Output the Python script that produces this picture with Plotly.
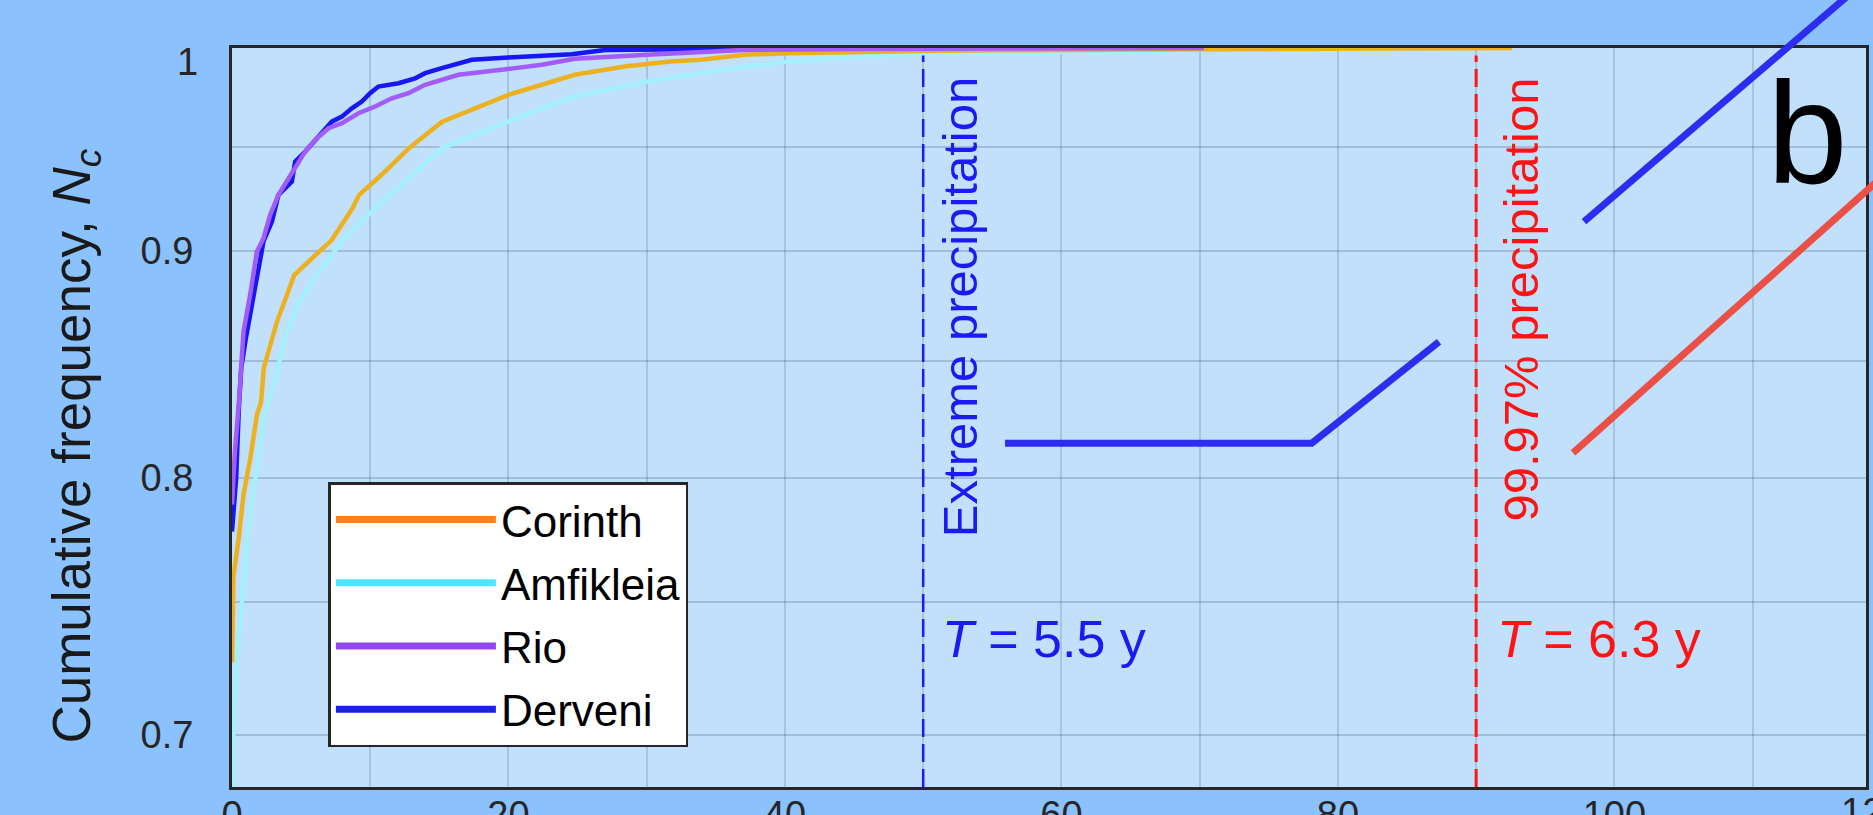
import math
import plotly.graph_objects as go

# Cumulative frequency of daily precipitation (mm) per station
corinth_x = [0, 0.1, 0.5, 0.83, 1.32, 1.8, 2.1, 2.3, 3.25, 4.5, 5.8, 7.2, 8.7, 9.2, 10.8,
             12.8, 15.2, 17.6, 20.0, 22.4, 24.8, 28.4, 31.7, 33.9, 37.1, 40.3, 43.5, 50,
             55, 62, 70, 80, 92.6]
corinth_y = [0.727, 0.760, 0.776, 0.793, 0.808, 0.8265, 0.832, 0.847, 0.8675, 0.8888,
             0.8967, 0.905, 0.920, 0.9266, 0.9362, 0.9493, 0.9625, 0.9692, 0.976, 0.9811,
             0.9862, 0.9904, 0.993, 0.9939, 0.9965, 0.9973, 0.9978, 0.9985, 0.9988, 0.999,
             0.9993, 0.9995, 1.0]

amfikleia_x = [0, 0.1, 0.25, 0.5, 0.93, 1.32, 1.8, 2.28, 2.93, 3.9, 4.87, 6.48, 7.95,
               10.35, 12.76, 15.18, 18.79, 22.41, 24.8, 30.0, 33.9, 37.1, 40.3, 43.5,
               48.4, 53.2, 59.7, 66, 75]
amfikleia_y = [0.66, 0.70, 0.718, 0.737, 0.763, 0.786, 0.804, 0.825, 0.838, 0.8616,
               0.8766, 0.8919, 0.9045, 0.9202, 0.9346, 0.9493, 0.9592, 0.9692, 0.9751,
               0.9827, 0.9870, 0.9904, 0.993, 0.9947, 0.9965, 0.9973, 0.9978, 0.9982, 1.0]

rio_x = [0, 0.2, 0.5, 0.83, 1.32, 1.8, 2.28, 2.76, 3.36, 4.09, 4.69, 5.29, 6.02, 6.98,
         7.95, 9.15, 10.35, 11.56, 12.76, 13.97, 16.38, 18.79, 20.48, 22.41, 23.6, 24.8,
         30.0, 33.9, 37, 45, 55, 70.3]
rio_y = [0.789, 0.81, 0.832, 0.863, 0.880, 0.8997, 0.906, 0.917, 0.9266, 0.9346, 0.9411,
         0.9477, 0.9534, 0.9592, 0.9617, 0.9667, 0.9701, 0.9742, 0.9768, 0.9811, 0.9862,
         0.9879, 0.9896, 0.9913, 0.9931, 0.9944, 0.9965, 0.9982, 0.999, 0.9995, 0.9997, 1.0]

derveni_x = [0, 0.3, 0.5, 0.67, 1.0, 1.32, 1.96, 2.28, 2.89, 3.36, 4.33, 4.57, 5.3, 6.02,
             6.74, 7.22, 7.95, 8.67, 9.39, 9.99, 10.59, 12.04, 13.25, 13.97, 15.18, 16.38,
             17.35, 19.99, 22.41, 24.58, 27, 35, 42]
derveni_y = [0.778, 0.80, 0.83, 0.847, 0.86, 0.871, 0.892, 0.9045, 0.9138, 0.9266, 0.933,
             0.9427, 0.9477, 0.9534, 0.9584, 0.9625, 0.965, 0.9692, 0.9726, 0.9768, 0.9802,
             0.9819, 0.9844, 0.987, 0.9896, 0.9921, 0.9939, 0.9951, 0.9961, 0.9968, 0.999,
             0.9995, 1.0]

stations = ["Corinth", "Amfikleia", "Rio", "Derveni"]

# Threshold lines (mm) and their return periods
extreme_threshold = 50
p9997_threshold = 90
extreme_label = "Extreme precipitation"
p9997_label = "99.97% precipitation"
extreme_period = "<i>T</i> = 5.5 y"
p9997_period = "<i>T</i> = 6.3 y"

x_ticks = [0, 20, 40, 60, 80, 100]
x_minor = [10, 30, 50, 70, 90, 110]
y_ticks = [0.7, 0.8, 0.9]
y_minor = [0.75, 0.85, 0.95]
y_top_label = "1"
x_edge_label = "120"

X_MAX = 118.2
Y_MIN = 0.6814

FONT = "Liberation Sans, Arial, sans-serif"
BLUE = "#1A1AF2"
RED = "#FF1414"
AXIS = "#262626"

curve_colors = {"Corinth": "#EDB120", "Amfikleia": "#A4F1FB",
                "Rio": "#A35CFA", "Derveni": "#1717F5"}
legend_colors = {"Corinth": "#FF7F1E", "Amfikleia": "#4DE6FF",
                 "Rio": "#9146F0", "Derveni": "#1E1EF0"}

series = {"Corinth": (corinth_x, corinth_y), "Amfikleia": (amfikleia_x, amfikleia_y),
          "Rio": (rio_x, rio_y), "Derveni": (derveni_x, derveni_y)}

fig = go.Figure()

for name in ["Amfikleia", "Derveni", "Corinth", "Rio"]:
    xs, ys = series[name]
    fig.add_trace(go.Scatter(x=xs, y=ys, mode="lines", showlegend=False,
                             line=dict(color=curve_colors[name], width=4.5)))

for name in stations:
    fig.add_trace(go.Scatter(x=[None], y=[None], mode="lines", name=name,
                             legendgroup=name,
                             line=dict(color=legend_colors[name], width=7)))

shapes = [
    dict(type="line", xref="x", yref="paper", x0=extreme_threshold, x1=extreme_threshold,
         y0=0, y1=0.99, line=dict(color=BLUE, width=2.5, dash="18px,7px")),
    dict(type="line", xref="x", yref="paper", x0=p9997_threshold, x1=p9997_threshold,
         y0=0, y1=0.99, line=dict(color=RED, width=3, dash="18px,7px")),
    # leader lines running off the panel
    dict(type="path", xref="paper", yref="paper",
         path="M0.4731,0.4651 L0.6608,0.4651 L0.7387,0.6026",
         line=dict(color="#2D2DF0", width=7)),
    dict(type="line", xref="paper", yref="paper", x0=0.8274, y0=0.7650, x1=1.0208, y1=1.131,
         line=dict(color="#2D2DF0", width=7)),
    dict(type="line", xref="paper", yref="paper", x0=0.8207, y0=0.4520, x1=1.0516, y1=0.908,
         line=dict(color="#EB5046", width=7)),
]

annotations = [
    dict(text="Cumulative frequency, <i>N<sub>c</sub></i>", xref="paper", yref="paper",
         x=-0.0955, y=0.462, textangle=-90, showarrow=False, xanchor="center",
         yanchor="middle", font=dict(size=53, color="#1A1A1A", family=FONT)),
    dict(text=extreme_label, xref="paper", yref="paper", x=0.4456, y=0.6495,
         textangle=-90, showarrow=False, xanchor="center", yanchor="middle",
         font=dict(size=49, color=BLUE, family=FONT)),
    dict(text=p9997_label, xref="paper", yref="paper", x=0.7889, y=0.6597,
         textangle=-90, showarrow=False, xanchor="center", yanchor="middle",
         font=dict(size=49, color=RED, family=FONT)),
    dict(text=extreme_period, xref="paper", yref="paper", x=0.4967, y=0.2003,
         showarrow=False, xanchor="center", yanchor="middle",
         font=dict(size=52, color=BLUE, family=FONT)),
    dict(text=p9997_period, xref="paper", yref="paper", x=0.8363, y=0.2003,
         showarrow=False, xanchor="center", yanchor="middle",
         font=dict(size=52, color=RED, family=FONT)),
    dict(text="b", xref="paper", yref="paper", x=0.9645, y=0.885,
         showarrow=False, xanchor="center", yanchor="middle",
         font=dict(size=145, color="black", family=FONT)),
    dict(text=y_top_label, xref="paper", yref="paper", x=-0.0195, y=0.981,
         showarrow=False, xanchor="right", yanchor="middle",
         font=dict(size=38, color=AXIS, family=FONT)),
    dict(text=x_edge_label, xref="paper", yref="paper", x=1.0037, y=-0.0025,
         showarrow=False, xanchor="center", yanchor="top",
         font=dict(size=38, color=AXIS, family=FONT)),
]

grid_x = "rgba(40,50,70,0.16)"
grid_y = "rgba(40,50,70,0.2)"

fig.update_layout(
    width=1873, height=815,
    margin=dict(l=232, r=7, t=48, b=28, pad=0),
    paper_bgcolor="#8BC1FC",
    plot_bgcolor="#C0E0FC",
    font=dict(family=FONT, color=AXIS),
    shapes=shapes,
    annotations=annotations,
    legend=dict(x=0.059, y=0.4127, xanchor="left", yanchor="top",
                bgcolor="white", bordercolor=AXIS, borderwidth=2.5,
                font=dict(size=44, color="black", family=FONT), itemwidth=160,
                tracegroupgap=3),
    xaxis=dict(range=[0, X_MAX], tickmode="array", tickvals=x_ticks,
               showgrid=True, gridcolor=grid_x, gridwidth=1.5,
               minor=dict(tickmode="array", tickvals=x_minor, showgrid=True,
                          gridcolor=grid_x, gridwidth=1.5, ticks=""),
               zeroline=False, showline=True, mirror=True, linecolor=AXIS,
               linewidth=3, ticks="", tickfont=dict(size=38, color=AXIS),
               ticklabelstandoff=-8, automargin=False),
    yaxis=dict(type="log", range=[math.log10(Y_MIN), 0], tickmode="array",
               tickvals=y_ticks, showgrid=True, gridcolor=grid_y, gridwidth=2,
               minor=dict(tickmode="array", tickvals=y_minor, showgrid=True,
                          gridcolor=grid_y, gridwidth=2, ticks=""),
               zeroline=False, showline=True, mirror=True,
               linecolor=AXIS, linewidth=3, ticks="",
               tickfont=dict(size=38, color=AXIS), ticklabelstandoff=28,
               automargin=False),
)

fig.write_html("out.html")
